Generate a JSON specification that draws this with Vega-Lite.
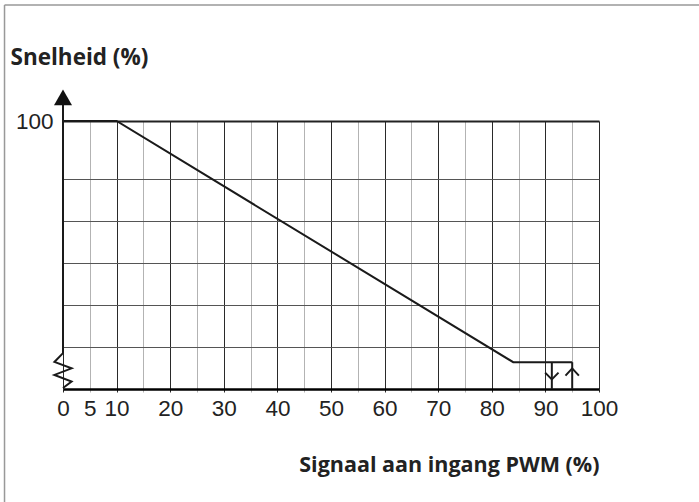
{
  "$schema": "https://vega.github.io/schema/vega-lite/v6.json",
  "width": 536,
  "height": 268,
  "autosize": {"type": "none"},
  "padding": {"left": 63, "top": 121, "right": 100, "bottom": 113},
  "background": "white",
  "config": {"view": {"stroke": null}},
  "datasets": {
    "frame": [
      {"x": -10.91, "x2": 118.7, "y": 143.28, "y2": 143.28},
      {"x": -10.91, "x2": -10.91, "y": 143.28, "y2": -42.2}
    ],
    "lines": [
      {"id": "c", "o": 0, "x": 0, "y": 100},
      {"id": "c", "o": 1, "x": 10, "y": 100},
      {"id": "c", "o": 2, "x": 84, "y": 10},
      {"id": "c", "o": 3, "x": 95, "y": 10},
      {"id": "d", "o": 0, "x": 89.95, "y": 6.1},
      {"id": "d", "o": 1, "x": 91.2, "y": 3.6},
      {"id": "d", "o": 2, "x": 92.45, "y": 6.1},
      {"id": "u", "o": 0, "x": 93.75, "y": 5.0},
      {"id": "u", "o": 1, "x": 95, "y": 7.7},
      {"id": "u", "o": 2, "x": 96.25, "y": 5.0},
      {"id": "z", "o": 0, "x": 0, "y": 13.4},
      {"id": "z", "o": 1, "x": -1.6, "y": 10.1},
      {"id": "z", "o": 2, "x": 1.6, "y": 7.7},
      {"id": "z", "o": 3, "x": -1.6, "y": 5.25},
      {"id": "z", "o": 4, "x": 1.6, "y": 2.8},
      {"id": "z", "o": 5, "x": 0, "y": 0.4}
    ],
    "rules": [
      {"x": 91.2, "x2": 91.2, "y": 0, "y2": 10},
      {"x": 95, "x2": 95, "y": 0, "y2": 10},
      {"x": 0, "x2": 0, "y": 13.4, "y2": 106}
    ],
    "arrow": [{"x": 0, "y": 108.8}]
  },
  "encoding": {
    "x": {
      "field": "x", "type": "quantitative",
      "scale": {"domain": [0, 100], "nice": false, "zero": false},
      "axis": {
        "values": [0, 5, 10, 15, 20, 25, 30, 35, 40, 45, 50, 55, 60, 65, 70, 75, 80, 85, 90, 95, 100],
        "grid": true,
        "gridColor": {"condition": {"test": "datum.value % 10 === 0", "value": "#2a2a2a"}, "value": "#b3b3b3"},
        "gridWidth": 1,
        "domain": true, "domainColor": "#000000", "domainWidth": 2.5,
        "ticks": true, "tickSize": 3,
        "tickColor": {"condition": {"test": "datum.value % 10 === 0", "value": "#2a2a2a"}, "value": "#b3b3b3"},
        "labelExpr": "(datum.value % 10 === 0 || datum.value === 5) ? datum.label : ''",
        "labelFont": "Liberation Sans", "labelFontSize": 22.5, "labelColor": "#222222",
        "labelPadding": 5, "labelFlush": false, "labelOverlap": false,
        "title": "Signaal aan ingang PWM (%)",
        "titleFont": "Open Sans", "titleFontSize": 21.5, "titleFontWeight": "bold", "titleColor": "#222222",
        "titleAlign": "right", "titleBaseline": "alphabetic", "titleX": 536, "titleY": 82
      }
    },
    "y": {
      "field": "y", "type": "quantitative",
      "scale": {"domain": [0, 100], "nice": false, "zero": false},
      "axis": {
        "values": [15.8, 31.3, 46.9, 62.7, 78.25, 100],
        "grid": true,
        "gridColor": {"condition": {"test": "datum.value === 100", "value": "#222222"}, "value": "#555555"},
        "gridWidth": {"condition": {"test": "datum.value === 100", "value": 2}, "value": 1.2},
        "domain": false, "ticks": false,
        "labelExpr": "datum.value === 100 ? '100' : ''",
        "labelFont": "Liberation Sans", "labelFontSize": 22.5, "labelColor": "#222222", "labelPadding": 10,
        "title": "Snelheid (%)",
        "titleFont": "Open Sans", "titleFontSize": 22.5, "titleFontWeight": "bold", "titleColor": "#222222",
        "titleAngle": 0, "titleAlign": "left", "titleBaseline": "alphabetic", "titleX": -53, "titleY": -57
      }
    }
  },
  "layer": [
    {
      "data": {"name": "lines"},
      "mark": {"type": "line", "color": "#1a1a1a", "strokeWidth": 2},
      "encoding": {
        "detail": {"field": "id", "type": "nominal"},
        "order": {"field": "o", "type": "quantitative"}
      }
    },
    {
      "data": {"name": "frame"},
      "mark": {"type": "rule", "color": "#999999", "strokeWidth": 1.5},
      "encoding": {
        "x2": {"field": "x2"},
        "y2": {"field": "y2"}
      }
    },
    {
      "data": {"name": "rules"},
      "mark": {"type": "rule", "color": "#1a1a1a", "strokeWidth": 2},
      "encoding": {
        "x2": {"field": "x2"},
        "y2": {"field": "y2"}
      }
    },
    {
      "data": {"name": "arrow"},
      "mark": {"type": "point", "shape": "triangle-up", "filled": true, "size": 324, "color": "#111111", "opacity": 1},
      "encoding": {}
    }
  ]
}
